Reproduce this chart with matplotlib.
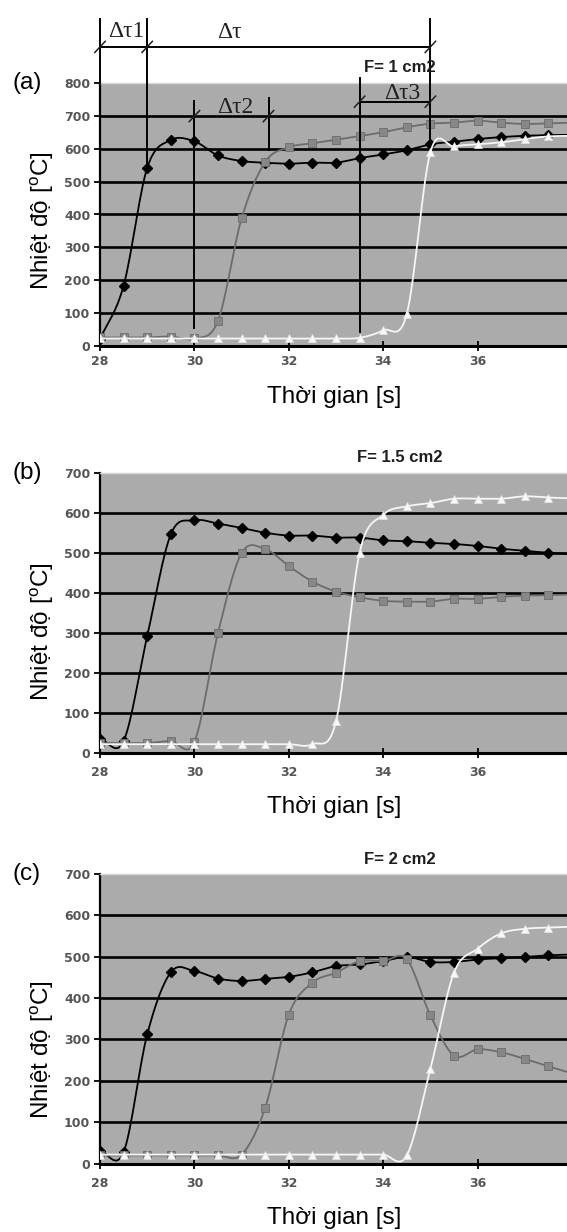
import numpy as np
import matplotlib.pyplot as plt

plt.rcParams['font.family'] = ['Liberation Sans', 'DejaVu Sans']
plt.rcParams['mathtext.default'] = 'regular'

# Thoi gian (s), un point toutes les 0.5 s
temps = [28.0, 28.5, 29.0, 29.5, 30.0, 30.5, 31.0, 31.5, 32.0, 32.5, 33.0,
         33.5, 34.0, 34.5, 35.0, 35.5, 36.0, 36.5, 37.0, 37.5, 38.0]

# (a) F = 1 cm2
noir_a = [20, 183, 542, 627, 623, 580, 563, 558, 555, 558, 558,
          572, 583, 596, 614, 622, 630, 636, 640, 642, 643]
gris_a = [25, 25, 25, 28, 22, 76, 388, 560, 605, 617, 628,
          639, 651, 666, 677, 680, 686, 680, 676, 678, 680]
blanc_a = [22, 22, 22, 22, 22, 22, 22, 22, 22, 22, 22,
           24, 47, 97, 590, 608, 614, 620, 630, 638, 640]

# (b) F = 1.5 cm2
noir_b = [35, 30, 292, 546, 581, 573, 562, 550, 543, 543, 538,
          538, 531, 529, 525, 522, 517, 510, 505, 500, 497]
gris_b = [25, 25, 25, 30, 28, 300, 499, 509, 467, 428, 403,
          389, 380, 378, 378, 385, 385, 390, 393, 394, 396]
blanc_b = [22, 22, 22, 22, 22, 22, 22, 22, 22, 22, 79,
           500, 595, 616, 624, 635, 635, 635, 641, 638, 636]

# (c) F = 2 cm2
noir_c = [30, 28, 312, 462, 465, 447, 441, 446, 451, 462, 477,
          481, 489, 499, 487, 487, 493, 496, 499, 503, 505]
gris_c = [20, 20, 20, 20, 20, 20, 22, 135, 360, 437, 461,
          489, 489, 493, 358, 261, 276, 269, 253, 235, 218]
blanc_c = [22, 22, 22, 22, 22, 22, 22, 22, 22, 22, 22,
           22, 22, 20, 229, 461, 519, 556, 567, 570, 572]

titres = ["F= 1 cm2", "F= 1.5 cm2", "F= 2 cm2"]
lettres = ["(a)", "(b)", "(c)"]
ymax = [800, 700, 700]
xticks = [28, 30, 32, 34, 36]

# bornes des intervalles delta tau (panneau a)
t_debut, t_1, t_fin = 28.0, 29.0, 35.0
t2_debut, t2_fin = 30.0, 31.57
t3_debut, t3_fin = 33.5, 35.0

FOND = "#ababab"
W, H = 567, 1232


def lisse(x, y, n=16):
    # courbe lissee facon Excel (Catmull-Rom) passant par les points
    x = np.asarray(x, float)
    y = np.asarray(y, float)
    yp = np.concatenate([[2 * y[0] - y[1]], y, [2 * y[-1] - y[-2]]])
    xs, ys = [], []
    t = np.linspace(0, 1, n, endpoint=False)
    for i in range(len(x) - 1):
        p0, p1, p2, p3 = yp[i:i + 4]
        ys.append(0.5 * (2 * p1 + (p2 - p0) * t
                         + (2 * p0 - 5 * p1 + 4 * p2 - p3) * t ** 2
                         + (3 * p1 - p0 - 3 * p2 + p3) * t ** 3))
        xs.append(x[i] + (x[i + 1] - x[i]) * t)
    xs.append([x[-1]])
    ys.append([y[-1]])
    return np.concatenate(xs), np.concatenate(ys)


def fx(px):
    return px / W


def fy(py):
    return 1 - py / H


fig = plt.figure(figsize=(W / 100, H / 100), dpi=100)

# position des axes en pixels : (haut, bas)
cadres = [(83.3, 345.7), (472.7, 753.0), (873.7, 1163.7)]
series = [(noir_a, gris_a, blanc_a), (noir_b, gris_b, blanc_b),
          (noir_c, gris_c, blanc_c)]
y_xlabel = [397, 807, 1218]
y_ylabel = [221, 632, 1050]
y_titre = [67, 458, 860]

axes = []
for k, (haut, bas) in enumerate(cadres):
    ax = fig.add_axes([fx(100), fy(bas), 1 - fx(100), (bas - haut) / H])
    ax.set_facecolor(FOND)
    noir, gris, blanc = series[k]

    xs, ys = lisse(temps, noir)
    ax.plot(xs, ys, color="black", lw=1.3, zorder=3)
    ax.plot(temps, noir, ls="none", marker="D", ms=5, color="black", zorder=3)

    xs, ys = lisse(temps, gris)
    ax.plot(xs, ys, color="#6c6c6c", lw=1.3, zorder=3.1)
    ax.plot(temps, gris, ls="none", marker="s", ms=5.2, color="#878787",
            mec="#6c6c6c", mew=0.6, zorder=3.1)

    xs, ys = lisse(temps, blanc)
    ax.plot(xs, ys, color="#f6f6f6", lw=1.3, zorder=3.2)
    ax.plot(temps, blanc, ls="none", marker="^", ms=5.2, color="#f8f8f8",
            mec="#e6e6e6", mew=0.5, zorder=3.2)

    ax.set_xlim(28, 28 + (W - 100) / 47.2)
    ax.set_ylim(0, ymax[k])
    ax.set_xticks(xticks)
    ax.set_yticks(range(0, ymax[k] + 1, 100))
    ax.set_axisbelow(True)
    ax.yaxis.grid(True, color="black", lw=1.9)
    ax.get_ygridlines()[-1].set_visible(False)
    ax.get_ygridlines()[0].set_visible(False)

    ax.spines["right"].set_visible(False)
    ax.spines["top"].set_color("#d6d6d6")
    ax.spines["top"].set_linewidth(1.0)
    ax.spines["left"].set_linewidth(1.6)
    ax.spines["bottom"].set_linewidth(2.2)

    ax.tick_params(axis="y", direction="out", length=4, width=1.3,
                   pad=3, labelsize=9, labelcolor="#555555")
    ax.tick_params(axis="x", direction="inout", length=7, width=1.3,
                   pad=6 if k else 3, labelsize=9, labelcolor="#555555")
    for lbl in ax.get_xticklabels() + ax.get_yticklabels():
        lbl.set_fontweight("bold")
        lbl.set_family("DejaVu Sans")

    fig.text(fx(334), fy(y_xlabel[k]), "Thời gian [s]", fontsize=17.5,
             ha="center", va="center")
    fig.text(fx(42), fy(y_ylabel[k]), "Nhiệt độ [$^{o}$C]", fontsize=17.5,
             rotation=90, ha="center", va="center")
    fig.text(fx(27), fy(haut), lettres[k], fontsize=17.5,
             ha="center", va="center")
    fig.text(fx(400), fy(y_titre[k]), titres[k], fontsize=12,
             fontweight="bold", ha="center", va="center", color="#1e1e1e")
    axes.append(ax)

# cotes delta tau sur le panneau (a)
ax = axes[0]
trait = dict(color="black", lw=1.4, clip_on=False, zorder=6)
serif = dict(family=["Liberation Serif", "DejaVu Serif"], fontsize=17,
             color="#202020", ha="center", va="center")

ax.plot([t_debut, t_debut], [800, 995], **trait)
ax.plot([t_1, t_1], [noir_a[2], 995], **trait)
ax.plot([t_fin, t_fin], [noir_a[14], 995], **trait)
ax.plot([t2_debut, t2_debut], [55, 745], **trait)
ax.plot([t2_fin, t2_fin], [597, 756], **trait)
ax.plot([t3_debut, t3_debut], [42, 816], **trait)
ax.plot([t_debut, t_fin], [911, 911], **trait)
ax.plot([t3_debut, t3_fin], [744, 744], **trait)

for xc, yc in [(t_debut, 911), (t_1, 911), (t_fin, 911), (t2_debut, 700),
               (t2_fin, 700), (t3_debut, 744), (t3_fin, 744)]:
    ax.plot([xc - 0.11, xc + 0.11], [yc - 17, yc + 17], color="#202020",
            lw=1.1, clip_on=False, zorder=6)

ax.text(28.55, 957, "Δτ1", **serif)
ax.text(30.75, 954, "Δτ", **serif)
ax.text(30.86, 727, "Δτ2", **serif)
ax.text(34.41, 770, "Δτ3", **serif)

fig.savefig("out.png", dpi=100)
plt.close(fig)
